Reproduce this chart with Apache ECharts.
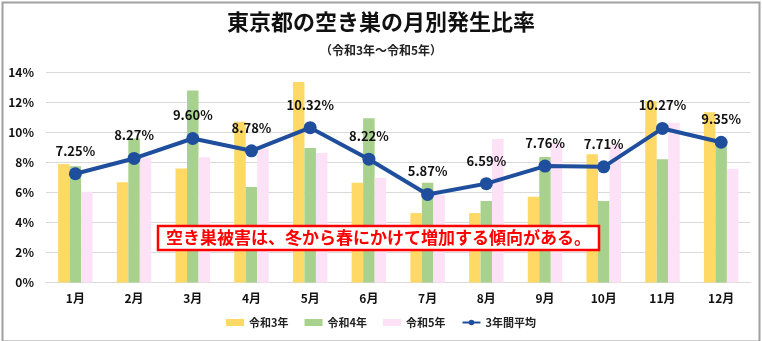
<!DOCTYPE html>
<html>
<head>
<meta charset="utf-8">
<script src="https://cdn.jsdelivr.net/npm/echarts@6/dist/echarts.min.js"></script>
<style>
html,body{margin:0;padding:0;background:#fff;}
#c{width:762px;height:341px;}
</style>
</head>
<body>
<div id="c"></div>
<script>
const months = ['1月','2月','3月','4月','5月','6月','7月','8月','9月','10月','11月','12月'];
const r3 = [7.9, 6.68, 7.6, 10.72, 13.37, 6.65, 4.63, 4.63, 5.72, 8.55, 12.1, 11.35];
const r4 = [7.75, 9.6, 12.8, 6.37, 8.97, 10.95, 6.65, 5.43, 8.37, 5.43, 8.21, 9.17];
const r5 = [6.05, 8.35, 8.35, 8.95, 8.63, 6.99, 5.83, 9.57, 9.3, 9.15, 10.65, 7.59];
const avg = [7.25, 8.27, 9.60, 8.78, 10.32, 8.22, 5.87, 6.59, 7.76, 7.71, 10.27, 9.35];
const yTicks = [0, 2, 4, 6, 8, 10, 12, 14];
const seriesNames = ['令和3年','令和4年','令和5年','3年間平均'];
const titleText = '東京都の空き巣の月別発生比率';
const subtitleText = '（令和3年～令和5年）';
const noteText = '空き巣被害は、冬から春にかけて増加する傾向がある。';

const FONT = '"Noto Sans CJK JP", "Noto Sans", sans-serif';
const chart = echarts.init(document.getElementById('c'), null, {renderer: 'canvas'});
const barCommon = {type: 'bar', barWidth: 11.5, barGap: '0%', z: 2};
chart.setOption({
  animation: false,
  backgroundColor: '#fff',
  textStyle: {fontFamily: FONT},
  title: [
    {text: titleText, left: 'center', top: 6,
     textStyle: {fontFamily: FONT, fontSize: 22, fontWeight: 'bold', color: '#111'}},
    {text: subtitleText, left: 'center', top: 39,
     textStyle: {fontFamily: FONT, fontSize: 12, fontWeight: 'bold', color: '#222'}}
  ],
  grid: {left: 46, right: 11.5, top: 72.5, bottom: 58.5, containLabel: false},
  legend: {
    bottom: 8, left: 'center', itemWidth: 18, itemHeight: 7, itemGap: 16,
    textStyle: {fontFamily: FONT, fontSize: 11, fontWeight: 'bold', color: '#222'},
    data: [
      {name: seriesNames[0], icon: 'rect'},
      {name: seriesNames[1], icon: 'rect'},
      {name: seriesNames[2], icon: 'rect'},
      {name: seriesNames[3]}
    ]
  },
  xAxis: {
    type: 'category', data: months,
    axisLine: {lineStyle: {color: '#D9D9D9', width: 1}},
    axisTick: {show: false},
    axisLabel: {fontFamily: FONT, fontSize: 12, fontWeight: 'bold', color: '#111', margin: 10}
  },
  yAxis: {
    type: 'value', min: yTicks[0], max: yTicks[yTicks.length - 1], interval: 2,
    axisLine: {show: false}, axisTick: {show: false},
    splitLine: {lineStyle: {color: '#D9D9D9', width: 1}},
    axisLabel: {fontFamily: FONT, fontSize: 12, fontWeight: 'bold', color: '#111', margin: 12,
      formatter: v => v + '%'}
  },
  series: [
    Object.assign({name: seriesNames[0], data: r3, itemStyle: {color: '#FFD966'}}, barCommon),
    Object.assign({name: seriesNames[1], data: r4, itemStyle: {color: '#A9D18E'}}, barCommon),
    Object.assign({name: seriesNames[2], data: r5, itemStyle: {color: '#FCE1F7'}}, barCommon),
    {
      name: seriesNames[3], type: 'line', data: avg, z: 5,
      symbol: 'circle', symbolSize: 13,
      lineStyle: {color: '#1F4E9C', width: 4},
      itemStyle: {color: '#1F4E9C'},
      label: {show: true, position: 'top', distance: 10,
        fontFamily: FONT, fontSize: 13, fontWeight: 'bold', color: '#111',
        formatter: p => p.value.toFixed(2) + '%'}
    }
  ],
  graphic: [
    {type: 'rect', left: 0, top: 0, z: 100, silent: true,
     shape: {x: 1, y: 1, width: 757, height: 339},
     style: {fill: 'none', stroke: '#A0A0A0', lineWidth: 2}},
    {type: 'rect', z: 50, silent: true,
     shape: {x: 158, y: 226, width: 441, height: 24},
     style: {fill: '#fff', stroke: '#FF0000', lineWidth: 2.5}},
    {type: 'text', z: 51, silent: true, x: 378.5, y: 238,
     style: {text: noteText, fill: '#FF0000', font: 'bold 17px ' + FONT,
       textAlign: 'center', textVerticalAlign: 'middle'}}
  ]
});
</script>
</body>
</html>
